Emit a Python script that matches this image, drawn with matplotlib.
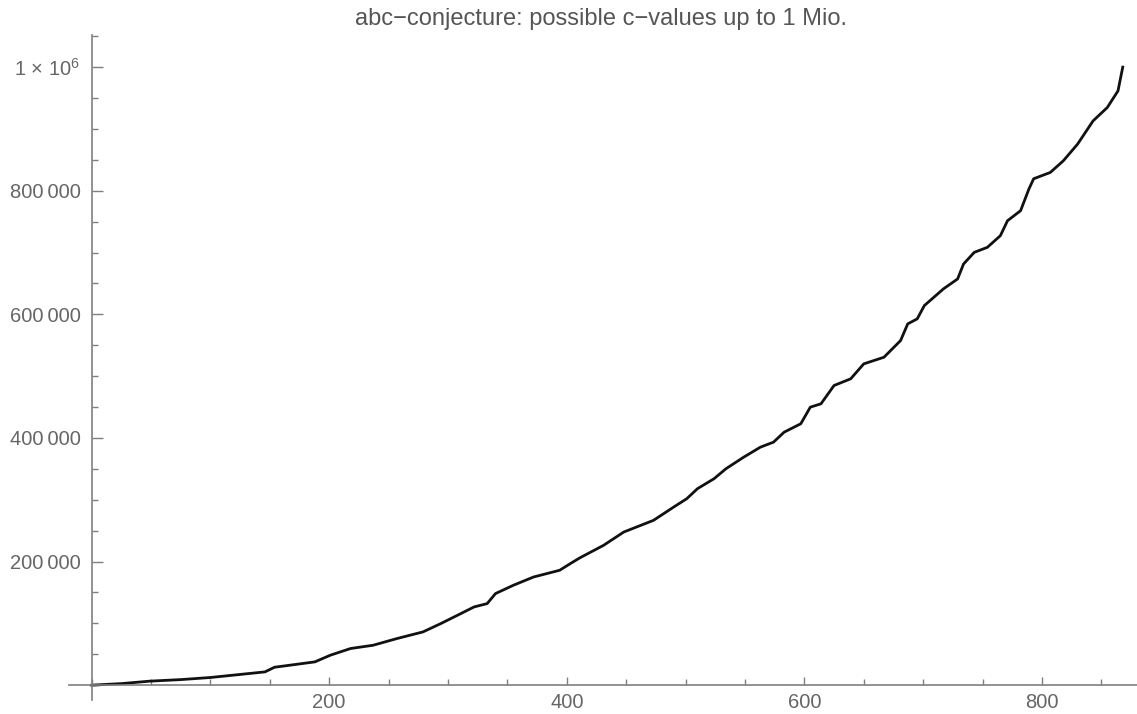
import matplotlib
matplotlib.use('Agg')
import matplotlib.pyplot as plt
from matplotlib.ticker import MultipleLocator, FixedLocator, FuncFormatter

plt.rcParams['font.family'] = ['Liberation Sans', 'DejaVu Sans']
plt.rcParams['mathtext.default'] = 'regular'

# index n and c-value
n_vals = [0, 25, 49, 75, 100, 146, 154, 188, 201, 218, 237, 257, 279, 294,
          308, 322, 333, 340, 355, 372, 394, 403, 411, 431, 448, 473, 490,
          501, 510, 524, 534, 549, 563, 574, 583, 597, 605, 614, 625, 639,
          650, 667, 681, 687, 695, 701, 717, 729, 734, 743, 754, 765, 771,
          782, 789, 793, 807, 818, 830, 843, 855, 864, 868]
c_vals = [0, 2500, 6500, 9000, 12400, 21500, 29000, 37700, 48500, 59300,
          64600, 75400, 86200, 99700, 113100, 126600, 132000, 148200, 161600,
          175000, 185900, 196700, 206000, 226300, 247800, 266700, 288200,
          301700, 317900, 334100, 350200, 369000, 385100, 393200, 409400,
          423000, 449800, 455300, 484900, 495700, 519900, 530600, 557600,
          584600, 592700, 614200, 641100, 657300, 681500, 700300, 708400,
          727300, 751500, 767700, 802700, 819400, 829600, 848500, 875500,
          913000, 934700, 961600, 1000000]

x_major = [200, 400, 600, 800]
y_major = [200000, 400000, 600000, 800000, 1000000]

title = 'abc\u2212conjecture: possible c\u2212values up to 1 Mio.'

axis_col = '#7f7f7f'
label_col = '#666666'

fig = plt.figure(figsize=(11.37, 7.14), dpi=100)
ax = fig.add_axes([69 / 1137, 14 / 714, 1 - 69 / 1137, (700 - 35) / 714])

ax.plot(n_vals, c_vals, color='#111111', lw=2.0, solid_joinstyle='round')

ax.set_xlim(-19, 880)
ax.set_ylim(-24000, 1052000)

for side in ['top', 'right']:
    ax.spines[side].set_visible(False)
ax.spines['left'].set_position(('data', 0))
ax.spines['bottom'].set_position(('data', 0))
for side in ['left', 'bottom']:
    ax.spines[side].set_color(axis_col)
    ax.spines[side].set_linewidth(1.2)

ax.xaxis.set_major_locator(FixedLocator(x_major))
ax.xaxis.set_minor_locator(MultipleLocator(50))
ax.yaxis.set_major_locator(FixedLocator(y_major))
ax.yaxis.set_minor_locator(MultipleLocator(50000))


def yfmt(v, pos):
    if v >= 1000000:
        return '1 \u00d7 10$^{6}$'
    s = '%d' % v
    return s[:-3] + '\u2009' + s[-3:]


ax.yaxis.set_major_formatter(FuncFormatter(yfmt))

ax.tick_params(axis='both', which='both', direction='in', colors=axis_col,
               labelcolor=label_col, labelsize=14.5, width=1.0)
ax.tick_params(axis='x', which='major', length=6, pad=5.5)
ax.tick_params(axis='x', which='minor', length=4)
ax.tick_params(axis='y', which='major', length=8, pad=8)
ax.tick_params(axis='y', which='minor', length=4.5)

fig.text(0.529, 1 - 19 / 714, title, ha='center', va='center',
         fontsize=17, color='#555555')

fig.savefig('out.png', dpi=100, facecolor='white')
